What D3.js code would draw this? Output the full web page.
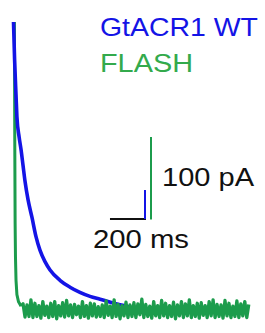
<!DOCTYPE html>
<html><head><meta charset="utf-8">
<script src="https://cdn.jsdelivr.net/npm/d3@7"></script>
<style>html,body{margin:0;padding:0;background:#fff;}svg{display:block;}</style>
</head><body>
<svg id="c" width="265" height="333"></svg>
<script>
// Normalized current traces (t in ms, v = fraction of peak)
const blueTime = [0,6,14,19,31,42,53,64,81,103,125,147,175,203,258,314,369,425,481,553,619,692,800,1000,1300];
const blueValue = [1.0,0.87,0.745,0.67,0.60,0.555,0.50,0.445,0.38,0.318,0.252,0.205,0.165,0.136,0.100,0.076,0.058,0.044,0.034,0.021,0.011,0.002,0.0,0.0,0.0];

const greenDecayTime = [5,7,9,11,14,19,28,42];
const greenDecayValue = [1.0,0.6,0.3,0.18,0.1,0.05,0.025,0.01];
const greenNoiseStart = 42, greenNoiseStep = 11;
const greenNoise = [
0.018,-0.028,0.014,-0.026,0.032,-0.030,0.020,-0.026,0.012,-0.032,
0.026,-0.022,0.010,-0.030,0.020,-0.026,0.026,-0.034,0.012,-0.024,
0.022,-0.028,0.030,-0.024,0.014,-0.030,0.016,-0.020,0.010,-0.030,
0.026,-0.026,0.012,-0.032,0.020,-0.024,0.018,-0.028,0.008,-0.026,
0.014,-0.030,0.028,-0.022,0.010,-0.030,0.032,-0.026,0.016,-0.034,
0.012,-0.024,0.024,-0.030,0.014,-0.026,0.022,-0.030,0.018,-0.020,
0.034,-0.030,0.016,-0.026,0.010,-0.032,0.026,-0.024,0.012,-0.030,
0.030,-0.024,0.020,-0.030,0.012,-0.026,0.024,-0.034,0.014,-0.024,
0.026,-0.030,0.018,-0.024,0.032,-0.030,0.012,-0.026,0.020,-0.032,
0.022,-0.022,0.012,-0.030,0.026,-0.024,0.032,-0.030,0.016,-0.026,
0.014,-0.032,0.030,-0.024,0.020,-0.030,0.010,-0.026,0.028,-0.030,
0.018,-0.024,0.026,-0.030,0.016];

// scale bars
const scaleBarTime = 200;           // ms
const scaleBarStart = 536;          // ms
const scaleBarLevel = 0.3136;       // normalized
const blueBar100pA = 0.101;         // normalized height of 100 pA for blue
const greenBar100pA = 0.2857;       // normalized height of 100 pA for green
const legendLabels = ["GtACR1 WT","FLASH"];
const scaleLabels = ["100 pA","200 ms"];

const blue = "#1414e6", green = "#1c9c4c", greenText = "#33aa4c";

const svg = d3.select("#c");
const x = d3.scaleLinear().domain([0,1300]).range([13.5,247.5]);
const y = d3.scaleLinear().domain([0,1]).range([309,22]);
const line = d3.line().x(d=>x(d[0])).y(d=>y(d[1]));

// green decay (under blue)
const greenDecay = greenDecayTime.map((t,i)=>[t,greenDecayValue[i]]);
svg.append("path").attr("d", line(greenDecay))
  .attr("fill","none").attr("stroke",green).attr("stroke-width",3).attr("stroke-linejoin","round");

const blueData = blueTime.map((t,i)=>[t,blueValue[i]]);
svg.append("path").attr("d", d3.line().curve(d3.curveMonotoneX).x(d=>x(d[0])).y(d=>y(d[1]))(blueData))
  .attr("fill","none").attr("stroke",blue).attr("stroke-width",3.6).attr("stroke-linejoin","round");

// green noisy baseline (over blue)
const greenBase = [[greenNoiseStart, greenDecayValue[greenDecayValue.length-1]]]
  .concat(greenNoise.map((v,i)=>[greenNoiseStart+(i+1)*greenNoiseStep, v]));
svg.append("path").attr("d", line(greenBase))
  .attr("fill","none").attr("stroke",green).attr("stroke-width",3.3).attr("stroke-linejoin","round");

// scale bars
svg.append("line").attr("x1",x(scaleBarStart)).attr("x2",x(scaleBarStart+scaleBarTime))
  .attr("y1",y(scaleBarLevel)).attr("y2",y(scaleBarLevel)).attr("stroke","#111").attr("stroke-width",2);
svg.append("line").attr("x1",x(scaleBarStart+scaleBarTime)-1).attr("x2",x(scaleBarStart+scaleBarTime)-1)
  .attr("y1",y(scaleBarLevel)).attr("y2",y(scaleBarLevel+blueBar100pA)).attr("stroke",blue).attr("stroke-width",2);
svg.append("line").attr("x1",x(scaleBarStart+scaleBarTime)+5).attr("x2",x(scaleBarStart+scaleBarTime)+5)
  .attr("y1",y(scaleBarLevel)+0.5).attr("y2",y(scaleBarLevel+greenBar100pA)).attr("stroke",green).attr("stroke-width",2);

const font = "'Liberation Sans', Arial, sans-serif";
function txt(s, xx, yy, w, col){
  svg.append("text").text(s).attr("x",xx).attr("y",yy).attr("font-family",font)
    .attr("font-size",26).attr("fill",col).attr("textLength",w).attr("lengthAdjust","spacingAndGlyphs");
}
txt(legendLabels[0],100,35.5,158,blue);
txt(legendLabels[1],100,71.5,93,greenText);
txt(scaleLabels[0],162,186,92,"#111");
txt(scaleLabels[1],93,248,96,"#111");
</script>
</body></html>
